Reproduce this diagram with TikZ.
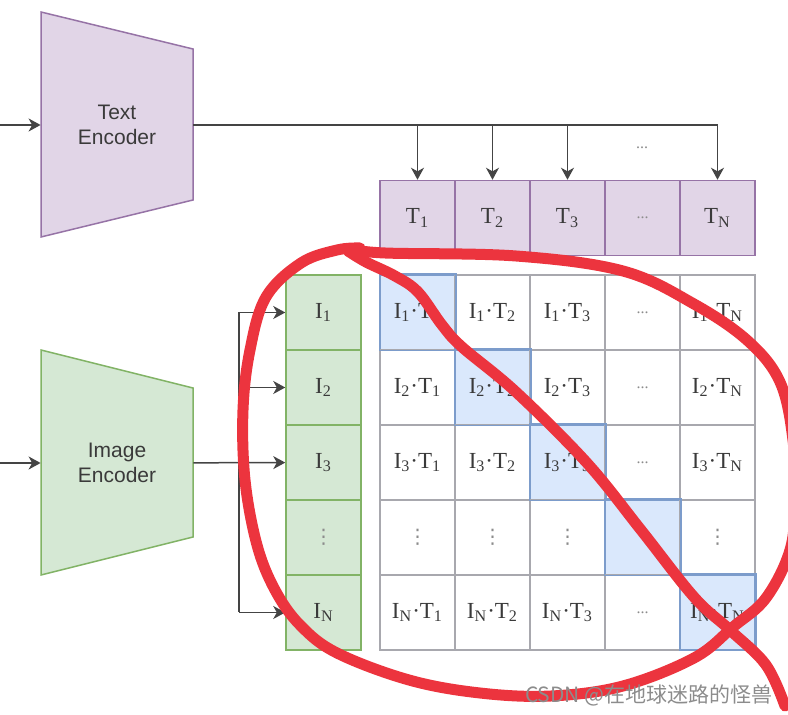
\documentclass[tikz,border=0pt]{standalone}
\usepackage{fontspec}
\setmainfont{Liberation Serif}
\setsansfont{Liberation Sans}
\newfontfamily\cjkfont{Noto Sans CJK SC}
\newfontfamily\symfont{DejaVu Sans}
\usetikzlibrary{arrows.meta,positioning}
\definecolor{PurpleFill}{HTML}{E1D5E7}
\definecolor{PurpleLine}{HTML}{9673A6}
\definecolor{GreenFill}{HTML}{D5E8D4}
\definecolor{GreenLine}{HTML}{82B366}
\definecolor{BlueFill}{HTML}{DAE8FC}
\definecolor{BlueLine}{HTML}{7C9CCB}
\definecolor{GridGray}{RGB}{168,168,174}
\definecolor{Wire}{RGB}{68,68,68}
\definecolor{Ink}{RGB}{58,58,58}
\definecolor{Faint}{RGB}{140,140,140}
\definecolor{PenRed}{RGB}{236,52,62}
\newcommand\simlab[2]{I\textsubscript{#1}·T\textsubscript{#2}}
\newcommand\hdotsmark{{\color{Faint}\fontsize{8}{9}\selectfont...}}
\newcommand\vdotsmark{{\color{Faint}\symfont\fontsize{10}{11}\selectfont ⋮}}
\tikzset{
  cell/.style={draw=GridGray,line width=0.75pt,fill=white,minimum size=37.5pt,inner sep=0pt,text=Ink,font=\fontsize{11.5}{13}\selectfont},
  tcell/.style={cell,draw=PurpleLine,fill=PurpleFill},
  icell/.style={cell,draw=GreenLine,fill=GreenFill},
  dcell/.style={cell,draw=BlueLine,fill=BlueFill},
  enclabel/.style={minimum width=76pt,minimum height=75pt,inner sep=0pt,align=center,text=Ink,font=\sffamily\fontsize{10.5}{12.5}\selectfont},
  wire/.style={line width=0.75pt,draw=Wire},
  flow/.style={wire,-{Stealth[length=6pt,width=6.5pt,inset=1.8pt]}},
  redpen/.style={draw=PenRed,line width=5.5pt,line cap=round,line join=round}
}
\begin{document}
\begin{tikzpicture}[x=0.5pt,y=-0.5pt]
\useasboundingbox (0,0) rectangle (788,715);
% encoders
\draw[line width=0.75pt,draw=PurpleLine,fill=PurpleFill] (41,12) -- (193,49) -- (193,200) -- (41,237) -- cycle;
\node[enclabel] (tenc) at (117,125) {Text\\Encoder};
\draw[line width=0.75pt,draw=GreenLine,fill=GreenFill] (41,350) -- (193,388) -- (193,537) -- (41,575) -- cycle;
\node[enclabel] (ienc) at (117,463) {Image\\Encoder};
\coordinate (tin) at (0,125);
\coordinate (iin) at (0,463);
\draw[flow] (tin) -- (tenc);
\draw[flow] (iin) -- (ienc);
% text features
\foreach \lab [count=\n] in {T\textsubscript{1},T\textsubscript{2},T\textsubscript{3},\hdotsmark,T\textsubscript{N}}
  \node[tcell] (t\n) at ({417.5+75*(\n-1)},218) {\lab};
\draw[flow] (tenc.east) -| (t5);
\foreach \n in {1,2,3} \draw[flow] (tenc.east -| t\n) -- (t\n);
\node[font=\fontsize{8}{9}\selectfont,text=Faint] (tdots) at (642,148) {...};
% image features
\foreach \lab [count=\n] in {I\textsubscript{1},I\textsubscript{2},I\textsubscript{3},\vdotsmark,I\textsubscript{N}}
  \node[icell] (i\n) at (323.5,{312.5+75*(\n-1)}) {\lab};
\coordinate (bus) at (239,463);
\draw[wire] (bus |- i1) -- (bus |- i5);
\draw[flow] (ienc) -- (i3);
\foreach \n in {1,2,5} \draw[flow] (bus |- i\n) -- (i\n);
\node[inner sep=0pt] (idots) at (257,537) {\vdotsmark};
% similarity matrix
\foreach \r/\ri in {1/1,2/2,3/3,4/x,5/N}{
  \foreach \c/\ci in {1/1,2/2,3/3,4/x,5/N}{
    \ifnum\r=\c \def\sty{dcell}\else\def\sty{cell}\fi
    \ifnum\r=4 \def\lab{\vdotsmark}\else
      \ifnum\c=4 \def\lab{\hdotsmark}\else\def\lab{\simlab{\ri}{\ci}}\fi
    \fi
    \ifnum\r=4 \ifnum\c=4 \def\lab{}\fi\fi
    \node[\sty] (c\r\c) at ({417.5+75*(\c-1)},{312.5+75*(\r-1)}) {\lab};
  }
}
\foreach \k in {1,...,5} \draw[line width=0.75pt,draw=BlueLine] (c\k\k.north west) rectangle (c\k\k.south east);
% hand marks
\draw[redpen] plot[smooth,tension=0.6] coordinates {(352,249) (385,253) (516,256) (623,271) (694,304) (748,341) (780,382) (793,440) (795,500) (790,550) (766,598) (733,627) (694,658) (623,686) (551,696) (480,693) (409,680) (337,653) (300,625) (275,590) (257,545) (245,480) (243,410) (250,350) (266,297) (301,263) (337,250) (360,248)};
\draw[redpen] plot[smooth,tension=0.6] coordinates {(348,251) (366,262) (395,276) (418,292) (442,325) (462,347) (516,392) (587,463) (641,530) (694,597) (730,630) (766,665) (785,706)};
\node[anchor=east,inner sep=0pt,text=Faint,font=\cjkfont\fontsize{10.5}{12}\selectfont] (mark) at (773,695) {CSDN @在地球迷路的怪兽};
\end{tikzpicture}
\end{document}
